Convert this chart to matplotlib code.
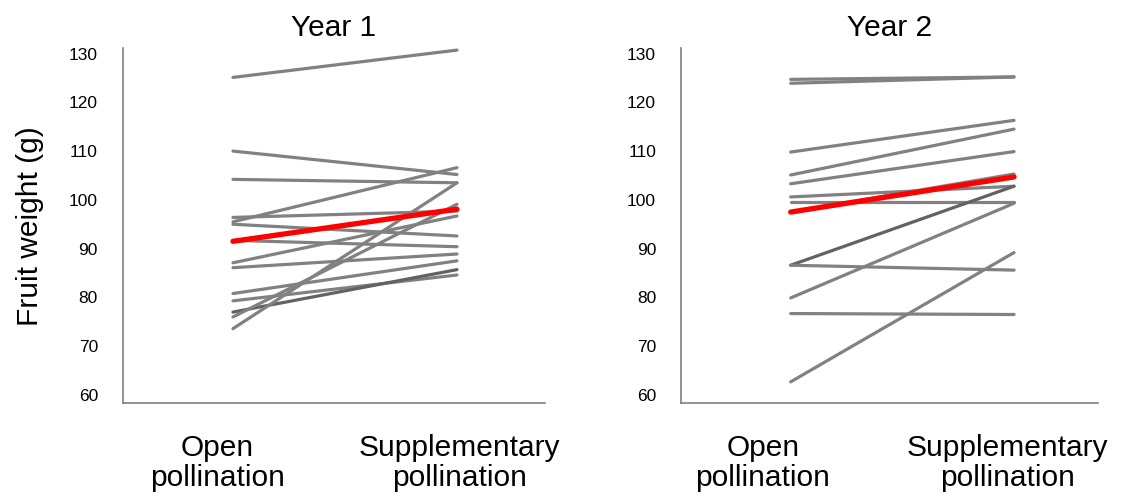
import matplotlib
matplotlib.use('Agg')
import matplotlib.pyplot as plt

plt.rcParams['font.family'] = ['Liberation Sans', 'DejaVu Sans']

categories = ['Open\npollination', 'Supplementary\npollination']

# one entry per plant: open -> supplementary
year1_open = [125.1, 110.0, 104.2, 96.4, 95.5, 95.0, 91.7, 87.1, 86.1, 80.8, 79.3, 77.0, 76.0, 73.6]
year1_supp = [130.7, 105.2, 103.5, 97.7, 106.6, 92.6, 90.4, 96.7, 88.9, 87.5, 84.6, 85.7, 99.1, 103.5]
year1_dark = [11]
year1_mean = [91.5, 98.1]

year2_open = [124.7, 123.9, 109.8, 105.1, 103.3, 100.6, 99.6, 97.5, 86.6, 86.6, 79.9, 76.7, 62.7]
year2_supp = [125.2, 125.2, 116.3, 114.5, 109.9, 102.8, 99.6, 105.3, 102.8, 85.6, 99.3, 76.5, 89.2]
year2_dark = [8]
year2_mean = [97.5, 104.7]

yticks = [60, 70, 80, 90, 100, 110, 120, 130]

fig = plt.figure(figsize=(11.21, 5.01), dpi=100)
ax1 = fig.add_axes([0.1097, 0.195, 0.3765, 0.7086])
ax2 = fig.add_axes([0.6075, 0.195, 0.372, 0.7086])

panels = [
    (ax1, 'Year 1', year1_open, year1_supp, year1_dark, year1_mean, (-0.491, 1.393), [-0.07, 1.01]),
    (ax2, 'Year 2', year2_open, year2_supp, year2_dark, year2_mean, (-0.491, 1.376), [-0.125, 0.97]),
]

for ax, title, op, sp, dark, mean, xlim, labpos in panels:
    for i, (a, b) in enumerate(zip(op, sp)):
        col = '#626262' if i in dark else '#818181'
        ax.plot([0, 1], [a, b], color=col, lw=2.3, solid_capstyle='round', zorder=2)
    ax.plot([0, 1], mean, color='#ff0000', lw=3.8, solid_capstyle='round', zorder=3)

    ax.set_xlim(*xlim)
    ax.set_ylim(58.3, 131.07)
    ax.set_yticks(yticks)
    ax.set_yticklabels([str(v) for v in yticks], fontsize=12.5)
    ax.set_xticks(labpos)
    ax.set_xticklabels(categories, fontsize=21.5, linespacing=1.1)
    ax.tick_params(axis='both', length=0)
    ax.tick_params(axis='y', pad=18)
    ax.tick_params(axis='x', pad=22)
    for s in ['top', 'right']:
        ax.spines[s].set_visible(False)
    for s in ['left', 'bottom']:
        ax.spines[s].set_color('#808080')
        ax.spines[s].set_linewidth(1.2)
    ax.set_title(title, fontsize=21.5, pad=9)

ax1.set_ylabel('Fruit weight (g)', fontsize=21.5, labelpad=18)

fig.savefig('out.png', dpi=100)
